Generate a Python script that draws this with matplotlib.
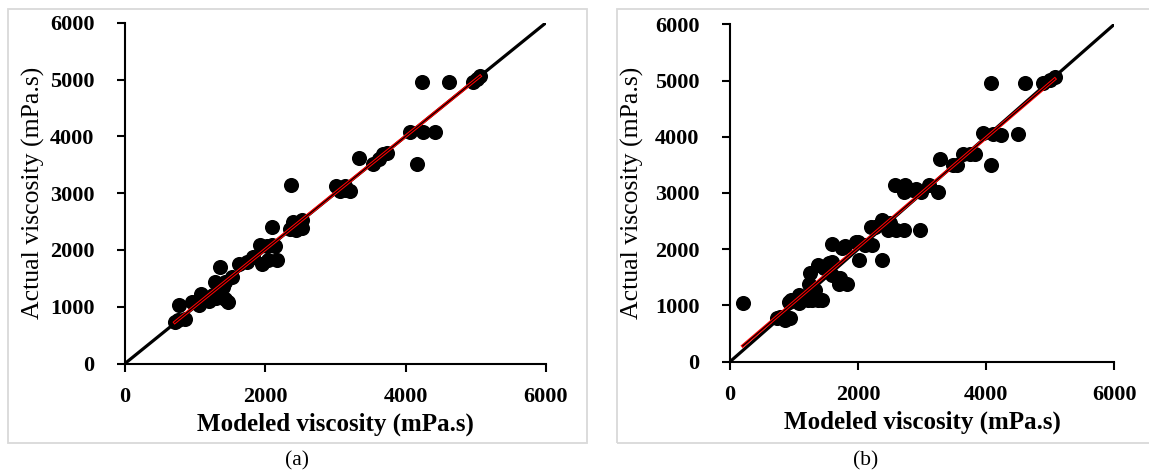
import numpy as np
import matplotlib
matplotlib.use("Agg")
import matplotlib.pyplot as plt
from matplotlib.patches import Rectangle

plt.rcParams["font.family"] = ["Liberation Serif", "DejaVu Serif"]

# (a) modeled vs actual viscosity, mPa.s
mod_a = [4230, 4620, 4960, 5020, 5060, 4060, 4250, 4420, 4160,
         3330, 3540, 3620, 3680, 3730, 2360, 3000, 3130, 3200, 3060, 3150,
         2400, 2520, 2520, 2350, 2440, 2090, 1920, 2020, 2140, 2160, 2040, 2090,
         1950, 1830, 1740, 1620, 1520, 1350, 1280, 1420, 1420, 1470, 1190, 1090,
         950, 1050, 1250, 1350, 1300, 1400, 1200, 770, 710, 850, 760]
act_a = [4960, 4960, 4960, 5010, 5060, 4070, 4070, 4070, 3510,
         3620, 3510, 3600, 3690, 3710, 3140, 3130, 3130, 3040, 3040, 3060,
         2500, 2530, 2380, 2360, 2350, 2400, 2090, 2060, 2060, 1820, 1820, 2080,
         1760, 1880, 1790, 1760, 1520, 1700, 1440, 1440, 1140, 1090, 1120, 1230,
         1090, 1030, 1200, 1300, 1150, 1350, 1100, 1030, 730, 790, 760]

# (b)
mod_b = [200, 4080, 4600, 4890, 4990, 5070, 3950, 4100, 4230, 4500, 4070,
         3280, 3480, 3550, 3630, 3740, 3820,
         2580, 2740, 2720, 2850, 2980, 3110, 3240, 2900,
         2200, 2380, 2460, 2590, 2720, 2960, 2500, 2270,
         1590, 1750, 1960, 2110, 2220, 2010, 2380, 1800, 2000,
         1250, 1380, 1540, 1590, 1700, 1830, 1230, 1330, 1440, 1280, 1380, 1220,
         1460, 1590, 1720, 1070, 920, 1070, 960, 730, 860, 940, 780]
act_b = [1040, 4950, 4950, 4960, 5010, 5060, 4060, 4050, 4040, 4050, 3490,
         3610, 3500, 3500, 3700, 3700, 3690,
         3140, 3140, 3020, 3050, 3020, 3140, 3020, 3080,
         2390, 2520, 2340, 2340, 2340, 2350, 2460, 2400,
         2090, 2020, 2120, 2080, 2080, 1810, 1810, 2050, 2130,
         1570, 1720, 1750, 1780, 1390, 1390, 1390, 1270, 1100, 1100, 1100, 1100,
         1660, 1540, 1480, 1190, 1070, 1040, 1100, 770, 740, 770, 800]

ticks = [0, 2000, 4000, 6000]
labels = ["(a)", "(b)"]

W, H = 1149, 475
fig = plt.figure(figsize=(W / 100, H / 100), dpi=100)

# gray frames around each panel
for x0, x1 in [(8, 587), (617, 1160)]:
    fig.patches.append(Rectangle((x0 / W, 1 - 443 / H), (x1 - x0) / W, 434 / H,
                                 transform=fig.transFigure, fill=False,
                                 edgecolor="#d9d9d9", linewidth=1.3))

axes_pos = [[125 / W, 1 - 363.5 / H, 421 / W, 340.8 / H],
            [730 / W, 1 - 361.7 / H, 384.3 / W, 337.4 / H]]
ylab_x = [33 / W, 632 / W]
cap_x = [297 / W, 866 / W]

for i, (xs, ys) in enumerate([(mod_a, act_a), (mod_b, act_b)]):
    ax = fig.add_axes(axes_pos[i])
    xs = np.array(xs)
    ys = np.array(ys)
    ax.scatter(xs, ys, s=118, color="black", zorder=2, linewidths=0)
    ax.plot(ticks, ticks, color="black", lw=2.3, zorder=3, solid_capstyle="butt")
    k, b = np.polyfit(xs, ys, 1)
    fx = np.array([xs.min(), xs.max()])
    ax.plot(fx, k * fx + b, color="red", lw=2.4, zorder=4)
    ax.plot(fx, k * fx + b, color="black", lw=0.9, zorder=5)
    ax.set_xlim(0, 6000)
    ax.set_ylim(0, 6000)
    ax.set_xticks(ticks)
    ax.set_yticks(range(0, 6001, 1000))
    ax.spines["top"].set_visible(False)
    ax.spines["right"].set_visible(False)
    for sp in ax.spines.values():
        sp.set_linewidth(1.5)
    ax.tick_params(direction="out", length=6, width=1.5, labelsize=16)
    ax.tick_params(axis="y", pad=16)
    ax.tick_params(axis="x", pad=11)
    for t in ax.get_xticklabels() + ax.get_yticklabels():
        t.set_fontweight("bold")
    ax.set_xlabel("Modeled viscosity (mPa.s)", fontsize=18, fontweight="bold",
                  labelpad=4)
    fig.text(ylab_x[i], 1 - 193 / H, "Actual viscosity (mPa.s)", fontsize=18.5,
             rotation=90, ha="center", va="center")
    fig.text(cap_x[i], 1 - 461 / H, labels[i], fontsize=15.5, ha="center",
             va="center")

fig.savefig("out.png", dpi=100)
